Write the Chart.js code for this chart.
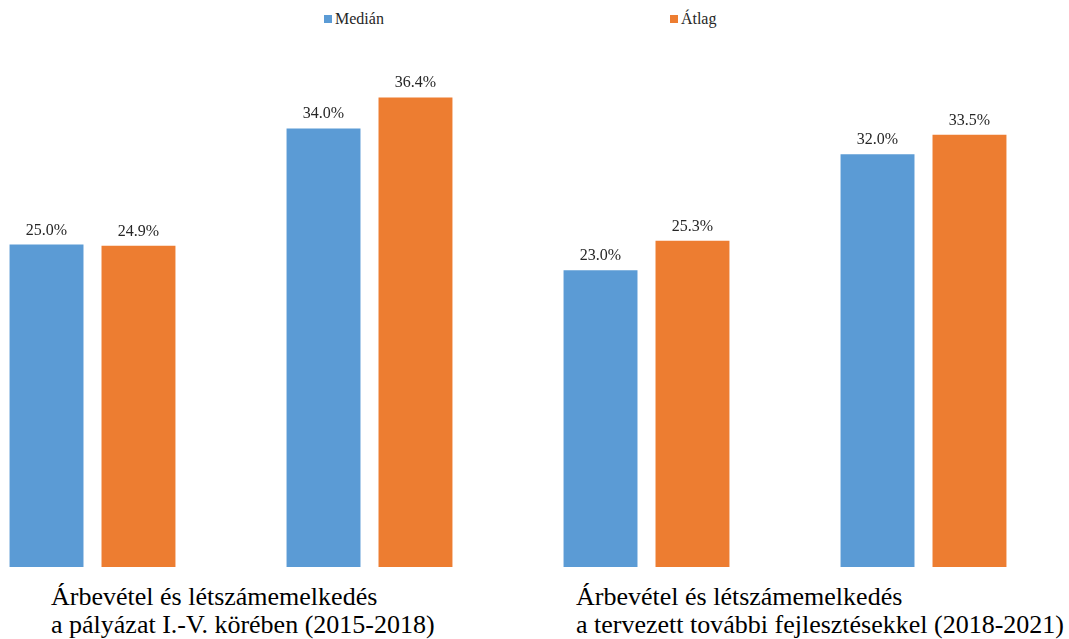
<!DOCTYPE html>
<html lang="hu">
<head>
<meta charset="utf-8">
<title>Medián és átlag</title>
<script src="https://cdn.jsdelivr.net/npm/chart.js@4/dist/chart.umd.min.js"></script>
<style>
  html, body { margin:0; padding:0; background:#fff; overflow:hidden; }
  body { width:1069px; height:639px; position:relative; font-family:"Liberation Serif","Times New Roman",serif; }
  #wrap { position:absolute; left:-46px; top:0; width:1108px; height:567px; }
  #legend { position:absolute; top:10px; left:324px; display:flex; gap:286px; font-size:16px; color:#262626; }
  #legend .item { display:flex; align-items:center; white-space:nowrap; }
  #legend .box { width:8px; height:8px; margin-right:3px; }
  .group { position:absolute; top:583px; font-size:26px; line-height:28px; color:#000; white-space:nowrap; }
</style>
</head>
<body>
<div id="legend"></div>
<div id="wrap"><canvas id="chart"></canvas></div>
<div class="group" id="g1"></div>
<div class="group" id="g2"></div>
<script>
// data
const categories = ['Árbevétel', 'Létszám', 'Árbevétel', 'Létszám'];
const median = [25.0, 34.0, 23.0, 32.0];
const atlag = [24.9, 36.4, 25.3, 33.5];
const seriesNames = ['Medián', 'Átlag'];
const colors = ['#5B9BD5', '#ED7D31'];
const groupLabels = [
  ['Árbevétel és létszámemelkedés', 'a pályázat I.-V. körében (2015-2018)'],
  ['Árbevétel és létszámemelkedés', 'a tervezett további fejlesztésekkel (2018-2021)']
];

// group captions under the bars
document.getElementById('g1').innerHTML = groupLabels[0].join('<br>');
document.getElementById('g1').style.left = '51px';
document.getElementById('g2').innerHTML = groupLabels[1].join('<br>');
document.getElementById('g2').style.left = '576px';

// legend (wide spacing, so built by hand)
const leg = document.getElementById('legend');
seriesNames.forEach((n,i)=>{
  const it = document.createElement('div');
  it.className = 'item';
  it.innerHTML = `<span class="box" style="background:${colors[i]}"></span><span>${n}</span>`;
  leg.appendChild(it);
});

// value labels above the bars
const valueLabels = {
  id:'valueLabels',
  afterDatasetsDraw(chart){
    const ctx = chart.ctx;
    ctx.save();
    ctx.font = '16px "Liberation Serif", serif';
    ctx.fillStyle = '#262626';
    ctx.textAlign = 'center';
    ctx.textBaseline = 'alphabetic';
    chart.data.datasets.forEach((ds,di)=>{
      chart.getDatasetMeta(di).data.forEach((bar,i)=>{
        ctx.fillText(ds.data[i].toFixed(1)+'%', bar.x, bar.y - 10);
      });
    });
    ctx.restore();
  }
};

new Chart(document.getElementById('chart'), {
  type:'bar',
  data:{
    labels: categories,
    datasets:[
      {label:seriesNames[0], data:median, backgroundColor:colors[0]},
      {label:seriesNames[1], data:atlag, backgroundColor:colors[1]}
    ]
  },
  options:{
    responsive:true,
    maintainAspectRatio:false,
    animation:false,
    layout:{padding:{top:51, left:0, right:0, bottom:0}},
    datasets:{bar:{categoryPercentage:0.664, barPercentage:0.804}},
    plugins:{legend:{display:false}, tooltip:{enabled:false}},
    scales:{
      x:{display:false},
      y:{display:false, min:0, max:40}
    }
  },
  plugins:[valueLabels]
});
</script>
</body>
</html>
